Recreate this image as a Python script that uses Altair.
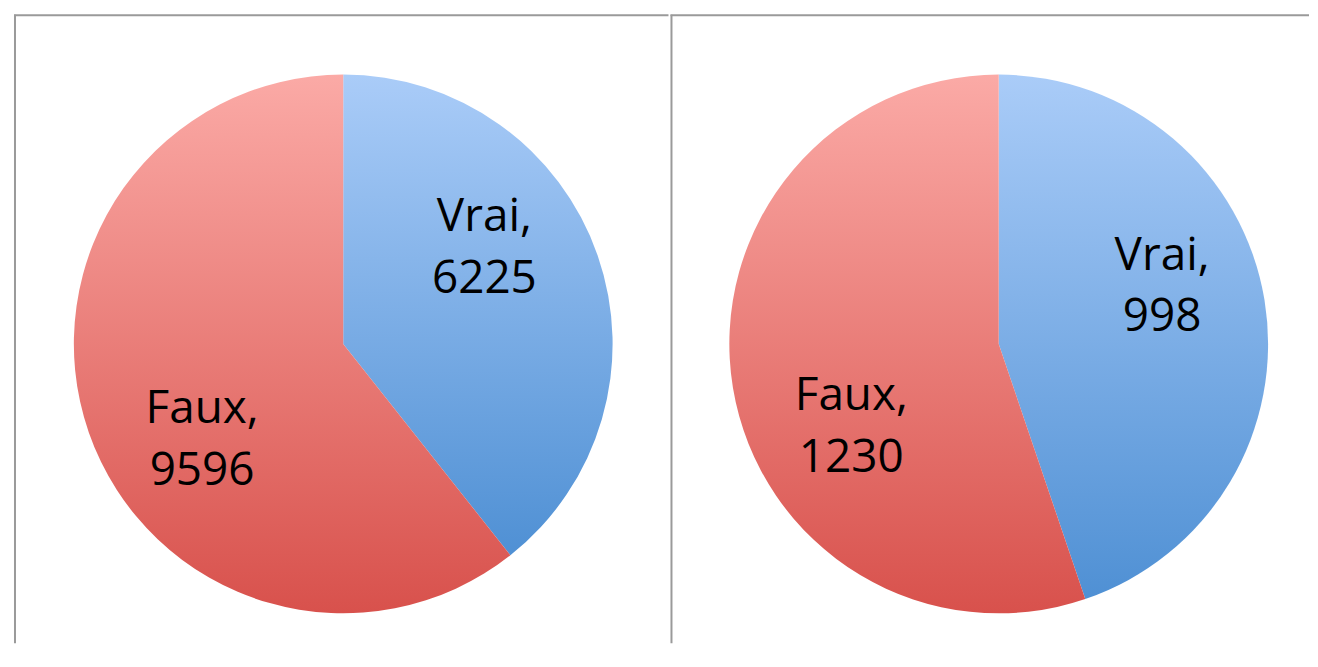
import math
import altair as alt
import pandas as pd

categories = ["Vrai", "Faux"]
left_values = [6225, 9596]
right_values = [998, 1230]

BLUE = {"gradient": "linear", "x1": 0, "y1": 0, "x2": 0, "y2": 1,
        "stops": [{"offset": 0, "color": "#AACCF8"}, {"offset": 1, "color": "#4F90D4"}]}
RED = {"gradient": "linear", "x1": 0, "y1": 0, "x2": 0, "y2": 1,
       "stops": [{"offset": 0, "color": "#FBAAA6"}, {"offset": 1, "color": "#D8514C"}]}

HEIGHT = 630
CY, R = 330, 270
LINE = "#9A9A9A"
LH = 62


def pie(values, width, cx, rot, dx, dy):
    df = pd.DataFrame({"category": categories, "value": values,
                       "order": list(range(len(categories)))})
    base = alt.Chart(df).transform_calculate(
        label="datum.category + ',\\n' + datum.value"
    )
    arcs = base.mark_arc(radius=R).encode(
        theta=alt.Theta("value:Q", stack=True),
        order=alt.Order("order:Q", sort="ascending"),
        color=alt.condition(alt.datum.category == "Vrai", alt.value(BLUE), alt.value(RED)),
        x=alt.value(cx),
        y=alt.value(CY),
    )
    text = base.mark_text(radius=171, font="Open Sans", fontSize=46, color="black",
                          lineBreak="\n", lineHeight=LH, align="center",
                          baseline="middle", dx=dx, dy=-LH / 2 + dy).encode(
        theta=alt.Theta("value:Q", stack=True,
                        scale=alt.Scale(range=[-rot, 2 * math.pi - rot])),
        order=alt.Order("order:Q", sort="ascending"),
        text="label:N",
        x=alt.value(cx),
        y=alt.value(CY),
    )
    one = pd.DataFrame({"r": [0]})
    top = alt.Chart(one).mark_rule(color=LINE, strokeWidth=2).encode(
        x=alt.value(0), x2=alt.value(width), y=alt.value(0.5))
    left = alt.Chart(one).mark_rule(color=LINE, strokeWidth=2).encode(
        x=alt.value(1), y=alt.value(0), y2=alt.value(HEIGHT))
    return alt.layer(arcs, text, top, left).resolve_scale(theta="independent").properties(
        width=width, height=HEIGHT)


rot = 15 * math.pi / 180
chart = alt.hconcat(
    pie(left_values, 656, 330, rot, 0, 0),
    pie(right_values, 640, 329, rot, 8, 13),
    spacing=0,
).configure_view(stroke=None).properties(
    padding={"left": 5, "top": 5, "right": 0, "bottom": 0})

chart.save("out.html", embed_options={"renderer": "svg", "actions": False})
